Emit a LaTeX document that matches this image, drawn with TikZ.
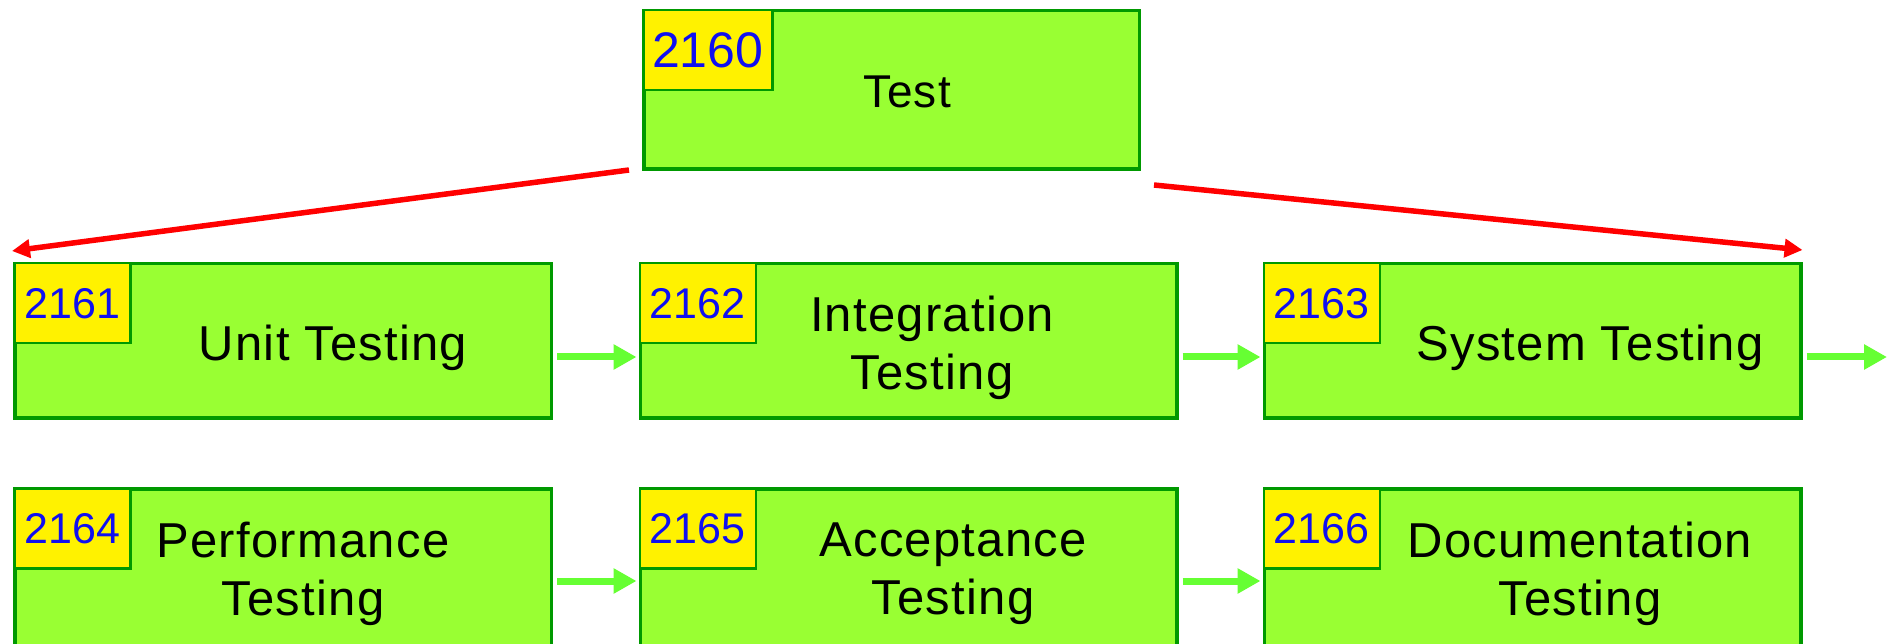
\documentclass[tikz,border=0pt]{standalone}
\usepackage{fontspec}
\setmainfont{Liberation Sans}
\newfontfamily\stagefont{Liberation Sans}[LetterSpace=2.5]
\usetikzlibrary{arrows.meta}

\definecolor{boxgreen}{RGB}{153,255,51}
\definecolor{edgegreen}{RGB}{0,153,0}
\definecolor{flowgreen}{RGB}{102,255,51}
\definecolor{numblue}{RGB}{16,16,240}

\begin{document}
\begin{tikzpicture}[x=1pt,y=1pt]

      \useasboundingbox (0,0) rectangle (1895,643);

      \begin{scope}[every node/.style={draw=edgegreen,fill=boxgreen,line width=3.5pt,minimum width=536.5pt,minimum height=154.5pt,inner sep=0pt}]
        \node (2160) at (891.5,553) [minimum width=495.5pt,minimum height=158.5pt] {};
        \node (2161) at (283,302)    {};
        \node (2162) at (908.5,302)  {};
        \node (2163) at (1532.5,302) {};
        % bottom row runs off the page
        \node (2164) at (283,73)     [minimum height=162.5pt] {};
        \node (2165) at (908.5,73)   [minimum height=162.5pt] {};
        \node (2166) at (1532.5,73)  [minimum height=162.5pt] {};
      \end{scope}

      \begin{scope}[every node/.style={draw=edgegreen,fill=yellow,line width=2.5pt,text=numblue,anchor=north west,minimum width=116pt,minimum height=80pt,inner sep=0pt,font=\fontsize{43}{43}\selectfont}]
        \node (n2160) at (2160.north west) [minimum width=129pt,font=\fontsize{50}{50}\selectfont] {2160};
        \node (n2161) at (2161.north west) {2161};
        \node (n2162) at (2162.north west) {2162};
        \node (n2163) at (2163.north west) {2163};
        \node (n2164) at (2164.north west) {2164};
        \node (n2165) at (2165.north west) {2165};
        \node (n2166) at (2166.north west) {2166};
      \end{scope}

      \begin{scope}[every node/.style={align=center,font=\stagefont\fontsize{49}{58}\selectfont}]
        \node (x2160) at (907,551.5) [font=\stagefont\fontsize{46}{46}\selectfont] {Test};
        \node (x2161) at (333,295.5)  {Unit Testing};
        \node (x2162) at (932,295.5)  {Integration\\Testing};
        \node (x2163) at (1590,295.5) {System Testing};
        \node (x2164) at (303,69.5)   {Performance\\Testing};
        \node (x2165) at (953,69.5)   {Acceptance\\Testing};
        \node (x2166) at (1580,69.5)  {Documentation\\Testing};
      \end{scope}

      \coordinate (r1) at ([shift={(-13,1)}]2160.south west);
      \coordinate (r2) at ([shift={(-1,11)}]2161.north west);
      \coordinate (r3) at ([shift={(13,-14)}]2160.south east);
      \coordinate (r4) at ([shift={(0,12)}]2163.north east);
      \coordinate (out) at (1889,286);

      \begin{scope}[every edge/.style={draw,red,line width=5.5pt,-{Triangle[length=18pt,width=18pt]}}]
        \path (r1) edge (r2);
        \path (r3) edge (r4);
      \end{scope}

      \begin{scope}[every edge/.style={draw,flowgreen,line width=7pt,shorten <=4pt,shorten >=2pt,-{Triangle[length=23pt,width=24pt]}}]
        \path ([yshift=-16pt]2161.east) edge ([yshift=-16pt]2162.west);
        \path ([yshift=-16pt]2162.east) edge ([yshift=-16pt]2163.west);
        \path ([yshift=-16pt]2163.east) edge (out);
        \path ([yshift=-11pt]2164.east) edge ([yshift=-11pt]2165.west);
        \path ([yshift=-11pt]2165.east) edge ([yshift=-11pt]2166.west);
      \end{scope}

    \end{tikzpicture}
\end{document}
